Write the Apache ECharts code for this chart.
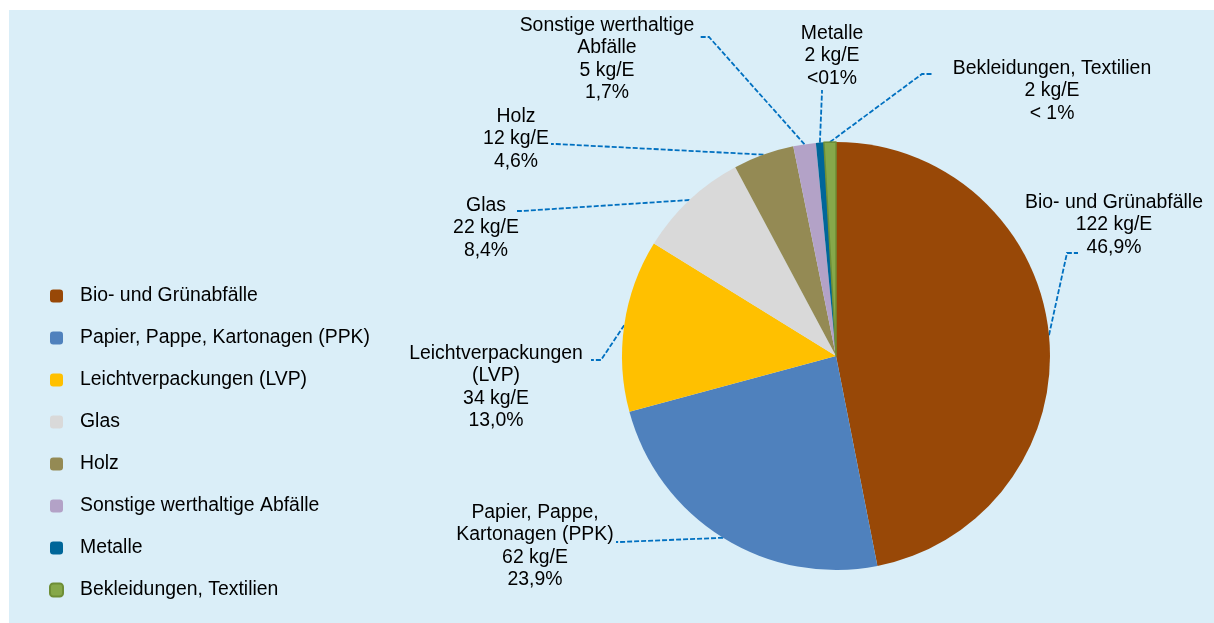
<!DOCTYPE html>
<html>
<head>
<meta charset="utf-8">
<script src="https://cdn.jsdelivr.net/npm/echarts@6/dist/echarts.min.js"></script>
<style>
  html, body { margin: 0; padding: 0; background: #ffffff; }
  #chart { width: 1214px; height: 623px; }
</style>
</head>
<body>
<div id="chart"></div>
<script>
const categories = ['Bio- und Grünabfälle', 'Papier, Pappe, Kartonagen (PPK)', 'Leichtverpackungen (LVP)', 'Glas', 'Holz', 'Sonstige werthaltige Abfälle', 'Metalle', 'Bekleidungen, Textilien'];
const labelNames = ['Bio- und Grünabfälle', 'Papier, Pappe,\nKartonagen (PPK)', 'Leichtverpackungen\n(LVP)', 'Glas', 'Holz', 'Sonstige werthaltige\nAbfälle', 'Metalle', 'Bekleidungen, Textilien'];
const kgPerResident = [122, 62, 34, 22, 12, 5, 2, 2];
const shares = [46.9, 23.9, 13.0, 8.4, 4.6, 1.7, 0.6, 0.9];
const shareLabels = ['46,9%', '23,9%', '13,0%', '8,4%', '4,6%', '1,7%', '<01%', '< 1%'];
const colors = ['#984807', '#4F81BD', '#FFC000', '#D9D9D9', '#948A54', '#B3A2C7', '#006699', '#86A84A'];

// label placement (layout only)
const labelAnchor = [[1114, 191], [535, 501], [496, 342], [486, 194], [516, 105], [607, 14], [832, 22], [1052, 57]];
const lineBend = [[1067, 253], [620, 542], [601, 360], [522, 211], [556, 144], [709, 37], [822, 92], [922, 74]];
const lineEnd = [[1078, 253], [616, 542], [591, 360], [517, 211], [551, 144], [700, 37], [822, 90], [933, 74]];

const chart = echarts.init(document.getElementById('chart'), null, { renderer: 'canvas' });
const FONT = 'Liberation Sans, Arial, sans-serif';

const seriesData = categories.map((c, i) => {
  const d = { name: c, value: shares[i], itemStyle: { color: colors[i] } };
  if (i === 7) { d.itemStyle.borderColor = '#6E8E36'; d.itemStyle.borderWidth = 1.5; }
  return d;
});

chart.setOption({
  backgroundColor: '#ffffff',
  animation: false,
  graphic: [{
    type: 'rect', z: -10, silent: true,
    shape: { x: 9, y: 10, width: 1205, height: 613 },
    style: { fill: '#DAEEF8' }
  }],
  legend: {
    orient: 'vertical',
    left: 49,
    top: 286,
    padding: 0,
    itemWidth: 13,
    itemHeight: 13,
    itemGap: 22,
    icon: 'roundRect',
    selectedMode: false,
    textStyle: { fontSize: 19.4, lineHeight: 20, color: '#000', fontFamily: FONT, padding: [0, 0, 0, 12] },
    data: categories
  },
  series: [{
    type: 'pie',
    center: [836, 356],
    radius: 214,
    startAngle: 90,
    clockwise: true,
    avoidLabelOverlap: false,
    minShowLabelAngle: 0,
    data: seriesData,
    label: {
      show: true,
      position: 'outside',
      fontSize: 19.4,
      lineHeight: 22.6,
      color: '#000',
      fontFamily: FONT,
      align: 'center',
      formatter: p => labelNames[p.dataIndex] + '\n' + kgPerResident[p.dataIndex] + ' kg/E\n' + shareLabels[p.dataIndex]
    },
    labelLine: {
      show: true,
      length: 10,
      length2: 10,
      lineStyle: { color: '#0070C0', width: 1.8, type: [5, 2] }
    },
    labelLayout: function (params) {
      const i = params.dataIndex;
      const pts = params.labelLinePoints;
      const start = pts && pts[0] ? pts[0] : lineBend[i];
      return {
        x: labelAnchor[i][0],
        y: labelAnchor[i][1],
        align: 'center',
        verticalAlign: 'top',
        labelLinePoints: [start, lineBend[i], lineEnd[i]]
      };
    },
    emphasis: { disabled: true }
  }]
});
</script>
</body>
</html>
